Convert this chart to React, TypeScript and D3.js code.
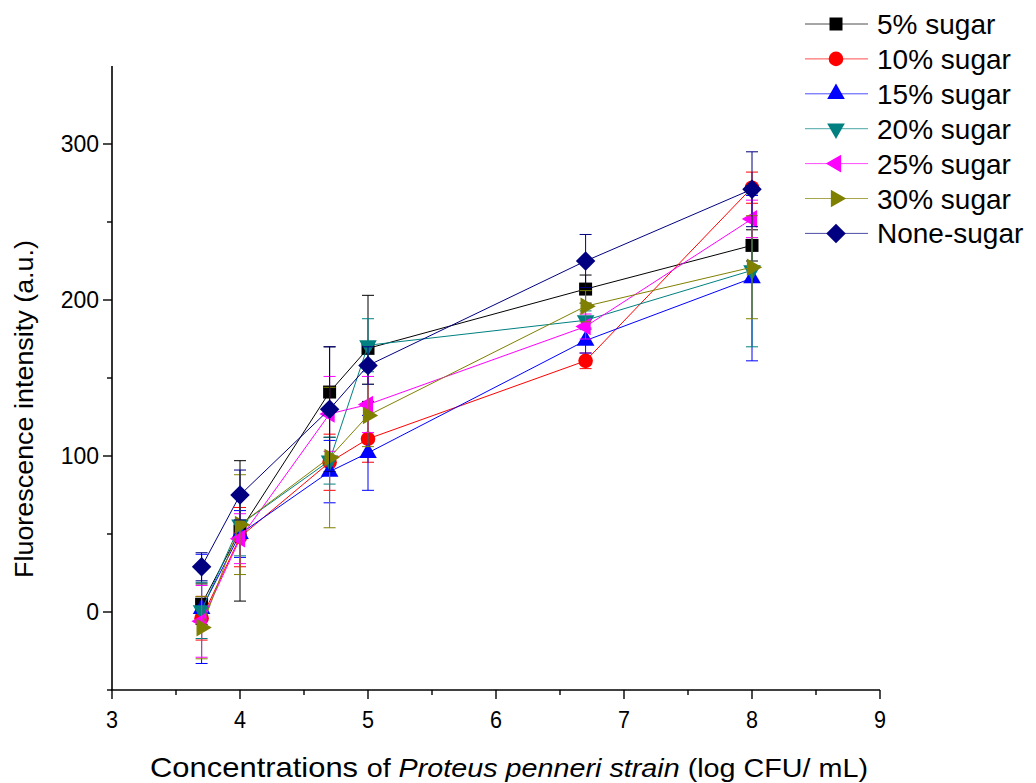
import React from "react";
import * as d3 from "d3";

const xValues = [3.7, 4, 4.7, 5, 6.7, 8];

const sugar5 = [5, 52, 141, 169, 207, 235];
const sugar5Err = [13, 45, 29, 34, 9, 10];
const sugar10 = [-4, 48, 96, 111, 161, 272];
const sugar10Err = [14, 19, 18, 15, 5, 10];
const sugar15 = [2, 50, 90, 102, 174, 214];
const sugar15Err = [35, 15, 20, 24, 8, 53];
const sugar20 = [1, 56, 97, 171, 187, 219];
const sugar20Err = [18, 20, 15, 17, 6, 49];
const sugar25 = [-6, 47, 127, 133, 183, 252];
const sugar25Err = [23, 16, 24, 18, 8, 12];
const sugar30 = [-10, 56, 99, 126, 196, 221];
const sugar30Err = [20, 32, 45, 20, 10, 33];
const noneSugar = [29, 75, 130, 158, 225, 271];
const noneSugarErr = [9, 16, 40, 12, 17, 24];

const seriesLabels = ["5% sugar", "10% sugar", "15% sugar", "20% sugar", "25% sugar", "30% sugar", "None-sugar"];
const seriesColors = ["#000000", "#ff0000", "#0000ff", "#008080", "#ff00ff", "#808000", "#000080"];
const seriesShapes = ["square", "circle", "up", "down", "left", "right", "diamond"];

const xTicks = [3, 4, 5, 6, 7, 8, 9];
const xMinorTicks = [3.5, 4.5, 5.5, 6.5, 7.5, 8.5];
const yTicks = [0, 100, 200, 300];
const yMinorTicks = [-50, 50, 150, 250];

const seriesValues = [sugar5, sugar10, sugar15, sugar20, sugar25, sugar30, noneSugar];
const seriesErrors = [sugar5Err, sugar10Err, sugar15Err, sugar20Err, sugar25Err, sugar30Err, noneSugarErr];

const FONT = "'Liberation Sans', Arial, sans-serif";

function Marker({ shape, x, y, color }: { shape: string; x: number; y: number; color: string }) {
  if (shape === "circle") return <circle cx={x} cy={y} r={7.3} fill={color} />;
  if (shape === "square") {
    const p = d3.symbol().type(d3.symbolSquare).size(169)();
    return <path d={p || ""} transform={`translate(${x},${y})`} fill={color} />;
  }
  if (shape === "diamond") {
    const p = d3.symbol().type(d3.symbolSquare).size(190)();
    return <path d={p || ""} transform={`translate(${x},${y}) rotate(45)`} fill={color} />;
  }
  const rot = shape === "up" ? 0 : shape === "down" ? 180 : shape === "left" ? -90 : 90;
  const p = d3.symbol().type(d3.symbolTriangle).size(135)();
  return <path d={p || ""} transform={`translate(${x},${y}) rotate(${rot})`} fill={color} />;
}

export default function App() {
  const width = 1036;
  const height = 783;
  const x = d3.scaleLinear().domain([3, 9]).range([112, 880]);
  const y = d3.scaleLinear().domain([-50, 350]).range([690, 66]);
  const line = d3.line<number>().x((_, i) => x(xValues[i])).y((d) => y(d));
  const capW = 6;

  return (
    <svg width={width} height={height} style={{ position: "absolute", left: 0, top: 0, background: "#fff" }}>
      {/* axes */}
      <line x1={x(3)} x2={x(3)} y1={y(350)} y2={y(-50)} stroke="#000" strokeWidth={1.6} />
      <line x1={x(3) - 1} x2={x(9)} y1={y(-50)} y2={y(-50)} stroke="#000" strokeWidth={1.6} />
      {xTicks.map((t) => (
        <g key={"xt" + t}>
          <line x1={x(t)} x2={x(t)} y1={y(-50)} y2={y(-50) + 9} stroke="#000" strokeWidth={1.4} />
          <text x={x(t)} y={y(-50) + 38} textAnchor="middle" fontFamily={FONT} fontSize={24} textLength={12} lengthAdjust="spacingAndGlyphs">{t}</text>
        </g>
      ))}
      {xMinorTicks.map((t) => (
        <line key={"xm" + t} x1={x(t)} x2={x(t)} y1={y(-50)} y2={y(-50) + 5} stroke="#000" strokeWidth={1.4} />
      ))}
      {yTicks.map((t) => (
        <g key={"yt" + t}>
          <line x1={x(3) - 9} x2={x(3)} y1={y(t)} y2={y(t)} stroke="#000" strokeWidth={1.4} />
          <text x={x(3) - 13} y={y(t) + 8} textAnchor="end" fontFamily={FONT} fontSize={23}>{t}</text>
        </g>
      ))}
      {yMinorTicks.map((t) => (
        <line key={"ym" + t} x1={x(3) - 5} x2={x(3)} y1={y(t)} y2={y(t)} stroke="#000" strokeWidth={1.4} />
      ))}
      {/* axis titles */}
      <text x={150} y={777} fontFamily={FONT} fontSize={26} textLength={718} lengthAdjust="spacingAndGlyphs">
        <tspan fontSize={28}>Concentrations </tspan>
        <tspan>of </tspan>
        <tspan fontStyle="italic">Proteus penneri strain</tspan>
        <tspan> (log CFU/ mL)</tspan>
      </text>
      <text transform={`translate(33,409) rotate(-90)`} textAnchor="middle" fontFamily={FONT} fontSize={26} textLength={338} lengthAdjust="spacingAndGlyphs">
        Fluorescence intensity (a.u.)
      </text>
      {/* series */}
      {seriesValues.map((vals, si) => {
        const c = seriesColors[si];
        const errs = seriesErrors[si];
        return (
          <g key={"s" + si}>
            {vals.map((v, i) => {
              const cx = x(xValues[i]);
              const top = y(v + errs[i]);
              const bot = y(v - errs[i]);
              return (
                <g key={"e" + i} stroke={c} strokeWidth={1}>
                  <line x1={cx} x2={cx} y1={top} y2={bot} />
                  <line x1={cx - capW} x2={cx + capW} y1={top} y2={top} />
                  <line x1={cx - capW} x2={cx + capW} y1={bot} y2={bot} />
                </g>
              );
            })}
            <path d={line(vals) || ""} fill="none" stroke={c} strokeWidth={1} />
            {vals.map((v, i) => (
              <Marker key={"m" + i} shape={seriesShapes[si]} x={x(xValues[i])} y={y(v)} color={c} />
            ))}
          </g>
        );
      })}
      {/* legend */}
      {seriesLabels.map((lab, i) => {
        const ly = 24 + i * 34.9;
        return (
          <g key={"l" + i}>
            <line x1={805} x2={868} y1={ly} y2={ly} stroke={seriesColors[i]} strokeWidth={1} strokeOpacity={0.7} />
            <Marker shape={seriesShapes[i]} x={836} y={ly} color={seriesColors[i]} />
            <text x={877} y={ly + 10} fontFamily={FONT} fontSize={28}>{lab}</text>
          </g>
        );
      })}
    </svg>
  );
}
